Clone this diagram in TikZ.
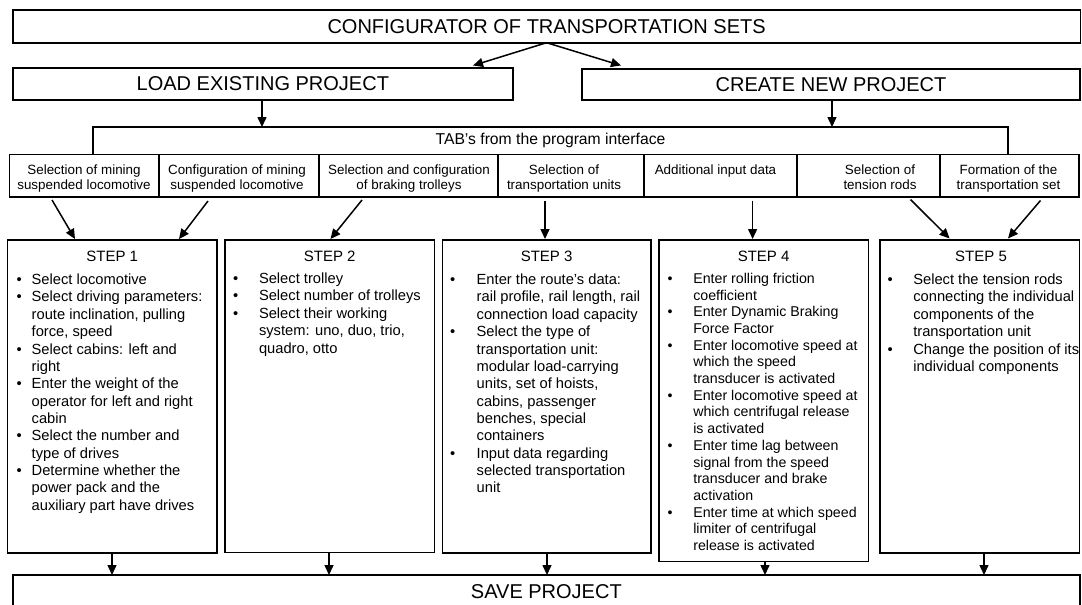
\documentclass[tikz,border=0pt]{standalone}
\usepackage{fontspec}
\setmainfont{Liberation Sans}
\usetikzlibrary{arrows.meta,calc}
\newcommand\fsz[2]{\fontsize{#1}{#2}\selectfont}
\newcommand\bl{\textbullet}
\begin{document}
\begin{tikzpicture}[x=1pt,y=-1pt,
 box/.style={draw, line width=1.6pt, inner sep=0pt, outer sep=0pt, anchor=north west},
 arr/.style={-{Triangle[length=10pt,width=9pt]}, line width=1.5pt},
 txt/.style={inner sep=0pt, outer sep=0pt, anchor=base},
 big/.style={font=\fsz{20}{24}},
 tabtxt/.style={txt, font=\fsz{13.4}{15.5}},
 steph/.style={txt, font=\fsz{15}{18}},
 steplist/.style={inner sep=0pt, outer sep=0pt, anchor=base west, font=\fsz{14.7}{17.35}},
]
\useasboundingbox (0,0) rectangle (1082,605);
\clip (0,0) rectangle (1082,605);

% top boxes
\node[box,big,minimum width=1067.8pt,minimum height=32.7pt] (cfg) at (12.7,10) {CONFIGURATOR OF TRANSPORTATION SETS};
\node[box,big,minimum width=500.3pt,minimum height=32.3pt] (load) at (12.7,67.7) {LOAD EXISTING PROJECT};
\node[box,big,minimum width=498pt,minimum height=31pt] (create) at (582,69) {CREATE NEW PROJECT};
\node[box,font=\fsz{15.7}{18},minimum width=915pt,minimum height=27.3pt] (tab) at (93,127) {TAB's from the program interface};

% tabs
\node[box,minimum width=149.4pt,minimum height=42.7pt] (t1) at (9.6,154.3) {};
\node[box,minimum width=160pt,minimum height=42.7pt] (t2) at (159,154.3) {};
\node[box,minimum width=179pt,minimum height=42.7pt] (t3) at (319,154.3) {};
\node[box,minimum width=146pt,minimum height=42.7pt] (t4) at (498,154.3) {};
\node[box,minimum width=153pt,minimum height=42.7pt] (t5) at (644,154.3) {};
\node[box,minimum width=143pt,minimum height=42.7pt] (t6) at (797,154.3) {};
\node[box,minimum width=139pt,minimum height=42.7pt] (t7) at (940,154.3) {};

\node[tabtxt] (t1x) at (84,174) {\begin{tabular}[t]{@{}c@{}}Selection of mining\\suspended locomotive\end{tabular}};
\node[tabtxt] (t2x) at (237,174) {\begin{tabular}[t]{@{}c@{}}Configuration of mining\\suspended locomotive\end{tabular}};
\node[tabtxt] (t3x) at (409,174) {\begin{tabular}[t]{@{}c@{}}Selection and configuration\\of braking trolleys\end{tabular}};
\node[tabtxt] (t4x) at (564,174) {\begin{tabular}[t]{@{}c@{}}Selection of\\transportation units\end{tabular}};
\node[tabtxt] (t5x) at (715.5,174) {Additional input data};
\node[tabtxt] (t6x) at (880,174) {\begin{tabular}[t]{@{}c@{}}Selection of\\tension rods\end{tabular}};
\node[tabtxt] (t7x) at (1008.5,174) {\begin{tabular}[t]{@{}c@{}}Formation of the\\transportation set\end{tabular}};

% step boxes
\node[box,minimum width=209.5pt,minimum height=313pt] (s1) at (7.5,240) {};
\node[box,minimum width=209.5pt,minimum height=312.5pt] (s2) at (225,240) {};
\node[box,minimum width=208.7pt,minimum height=313pt] (s3) at (442.3,240) {};
\node[box,minimum width=209.3pt,minimum height=321.5pt] (s4) at (659,240) {};
\node[box,minimum width=199.5pt,minimum height=313pt] (s5) at (880,240) {};

\node[steph] (s1h) at (112.2,261) {STEP 1};
\node[steph] (s2h) at (329.7,261) {STEP 2};
\node[steph] (s3h) at (546.6,261) {STEP 3};
\node[steph] (s4h) at (763.6,261) {STEP 4};
\node[steph] (s5h) at (981,261) {STEP 5};

\node[steplist] (s1l) at (16.5,284.6) {\begin{tabular}[t]{@{}p{15.2pt}@{}l@{}}
\bl & Select locomotive\\
\bl & Select driving parameters:\\
 & route inclination, pulling\\
 & force, speed\\
\bl & Select cabins: left and\\
 & right\\
\bl & Enter the weight of the\\
 & operator for left and right\\
 & cabin\\
\bl & Select the number and\\
 & type of drives\\
\bl & Determine whether the\\
 & power pack and the\\
 & auxiliary part have drives
\end{tabular}};

\node[steplist] (s2l) at (233.2,283.6) {\begin{tabular}[t]{@{}p{25.8pt}@{}l@{}}
\bl & Select trolley\\
\bl & Select number of trolleys\\
\bl & Select their working\\
 & system: uno, duo, trio,\\
 & quadro, otto
\end{tabular}};

\node[steplist] (s3l) at (450.2,284.6) {\begin{tabular}[t]{@{}p{26.5pt}@{}l@{}}
\bl & Enter the route's data:\\
 & rail profile, rail length, rail\\
 & connection load capacity\\
\bl & Select the type of\\
 & transportation unit:\\
 & modular load-carrying\\
 & units, set of hoists,\\
 & cabins, passenger\\
 & benches, special\\
 & containers\\
\bl & Input data regarding\\
 & selected transportation\\
 & unit
\end{tabular}};

\node[steplist,font=\fsz{14.2}{16.7}] (s4l) at (667.5,283.3) {\begin{tabular}[t]{@{}p{25.8pt}@{}l@{}}
\bl & Enter rolling friction\\
 & coefficient\\
\bl & Enter Dynamic Braking\\
 & Force Factor\\
\bl & Enter locomotive speed at\\
 & which the speed\\
 & transducer is activated\\
\bl & Enter locomotive speed at\\
 & which centrifugal release\\
 & is activated\\
\bl & Enter time lag between\\
 & signal from the speed\\
 & transducer and brake\\
 & activation\\
\bl & Enter time at which speed\\
 & limiter of centrifugal\\
 & release is activated
\end{tabular}};

\node[steplist] (s5l) at (887.5,284.6) {\begin{tabular}[t]{@{}p{25.8pt}@{}l@{}}
\bl & Select the tension rods\\
 & connecting the individual\\
 & components of the\\
 & transportation unit\\
\bl & Change the position of its\\
 & individual components
\end{tabular}};

% save
\node[box,big,minimum width=1067.3pt,minimum height=33pt] (save) at (12.7,575) {SAVE PROJECT};

% connector coordinates
\coordinate (lt) at (473,65.5);
\coordinate (ct) at (621,65.5);
\coordinate (lx) at (262,0);
\coordinate (cx) at (832,0);
\coordinate (a1) at (52,200);   \coordinate (b1) at (75,239);
\coordinate (a2) at (208,201);  \coordinate (b2) at (179,239);
\coordinate (a3) at (362,200);  \coordinate (b3) at (330.5,239);
\coordinate (a4) at (545,200.5); \coordinate (b4) at (545,239);
\coordinate (a5) at (752.6,200.5); \coordinate (b5) at (752.6,239);
\coordinate (a6) at (910.5,199.5); \coordinate (b6) at (949.6,238.5);
\coordinate (a7) at (1040.5,200.5); \coordinate (b7) at (1008,238.5);
\coordinate (v1) at (112,0);
\coordinate (v2) at (329,0);
\coordinate (v3) at (547,0);
\coordinate (v4) at (765,0);
\coordinate (v5) at (984,0);

% connectors
\draw[arr] (cfg.south) -- (lt);
\draw[arr] (cfg.south) -- (ct);
\draw[arr] (load.south -| lx) -- (tab.north -| lx);
\draw[arr] (create.south -| cx) -- (tab.north -| cx);
\draw[arr] (a1) -- (b1);
\draw[arr] (a2) -- (b2);
\draw[arr] (a3) -- (b3);
\draw[arr] (a4) -- (b4);
\draw[arr] (a5) -- (b5);
\draw[arr] (a6) -- (b6);
\draw[arr] (a7) -- (b7);
\draw[arr] (s1.south -| v1) -- (save.north -| v1);
\draw[arr] (s2.south -| v2) -- (save.north -| v2);
\draw[arr] (s3.south -| v3) -- (save.north -| v3);
\draw[arr] (s4.south -| v4) -- (save.north -| v4);
\draw[arr] (s5.south -| v5) -- (save.north -| v5);
\end{tikzpicture}
\end{document}
